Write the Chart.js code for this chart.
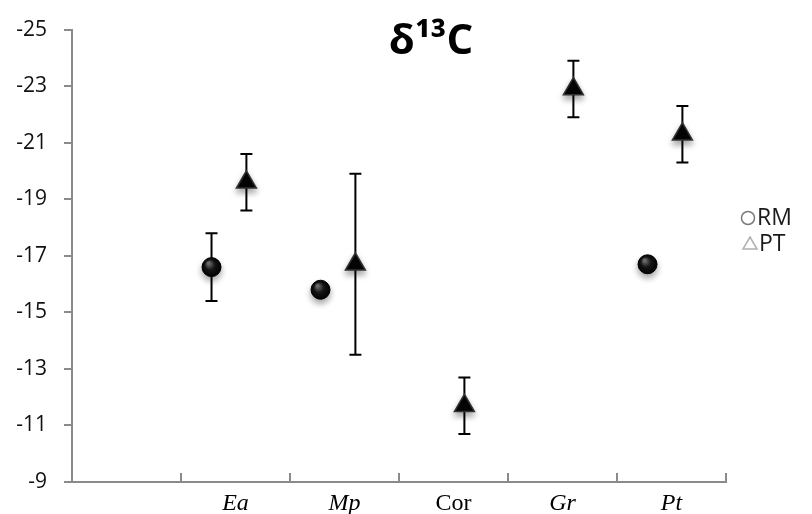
<!DOCTYPE html>
<html>
<head>
<meta charset="utf-8">
<script src="https://cdn.jsdelivr.net/npm/chart.js@4.4.1/dist/chart.umd.min.js"></script>
<style>body{margin:0;background:#fff}</style>
</head>
<body>
<canvas id="isoChart" width="812" height="514"></canvas>
<script>
// d13C by group, RM = circles, PT = triangles (y axis runs -25 at top to -9 at bottom)
const categories = ['', 'Ea', 'Mp', 'Cor', 'Gr', 'Pt'];
const rmValues = [null, -16.6, -15.8, null, null, -16.7];
const rmErrors = [null, 1.2, null, null, null, null];
const ptValues = [null, -19.6, -16.7, -11.7, -22.9, -21.3];
const ptErrors = [null, 1.0, 3.2, 1.0, 1.0, 1.0];
const yTicks = [-25, -23, -21, -19, -17, -15, -13, -11, -9];

const rmShift = -0.22;   // circles sit left of the slot centre
const ptShift = 0.1;     // triangles a little right
const axisGray = '#8a8a8a';

function toPoints(values, errors, shift) {
  const pts = [];
  values.forEach((v, i) => {
    if (v !== null) pts.push({ x: i + 0.5 + shift, y: v, err: errors[i] });
  });
  return pts;
}

function ballFill(c) {
  const chart = c.chart;
  if (c.type !== 'data' || !chart.chartArea || !c.parsed) return '#000';
  const px = chart.scales.x.getPixelForValue(c.parsed.x);
  const py = chart.scales.y.getPixelForValue(c.parsed.y);
  const g = chart.ctx.createRadialGradient(px - 3, py - 4, 1, px, py, 10);
  g.addColorStop(0, '#707070');
  g.addColorStop(0.45, '#161616');
  g.addColorStop(1, '#000');
  return g;
}

const errorBars = {
  id: 'errorBars',
  beforeDatasetsDraw(chart) {
    const { ctx, scales: { x, y } } = chart;
    ctx.save();
    ctx.strokeStyle = '#000';
    ctx.lineWidth = 2;
    chart.data.datasets.forEach(ds => {
      ds.data.forEach(p => {
        if (!p.err) return;
        const px = x.getPixelForValue(p.x);
        const top = y.getPixelForValue(p.y - p.err);
        const bot = y.getPixelForValue(p.y + p.err);
        ctx.beginPath();
        ctx.moveTo(px, top); ctx.lineTo(px, bot);
        ctx.moveTo(px - 6, top); ctx.lineTo(px + 6, top);
        ctx.moveTo(px - 6, bot); ctx.lineTo(px + 6, bot);
        ctx.stroke();
      });
    });
    ctx.restore();
    // soft drop shadow under the markers
    ctx.save();
    ctx.shadowColor = 'rgba(0,0,0,0.35)';
    ctx.shadowBlur = 6;
    ctx.shadowOffsetY = 4;
  },
  afterDatasetsDraw(chart) {
    chart.ctx.restore();
  }
};

const extras = {
  id: 'extras',
  afterDraw(chart) {
    const { ctx, chartArea, scales: { x } } = chart;
    ctx.save();
    // upward tick marks between the groups
    ctx.strokeStyle = axisGray;
    ctx.lineWidth = 2;
    for (let i = 0; i <= categories.length; i++) {
      const px = x.getPixelForValue(i);
      ctx.beginPath();
      ctx.moveTo(px, chartArea.bottom);
      ctx.lineTo(px, chartArea.bottom - 9);
      ctx.stroke();
    }
    // title
    ctx.fillStyle = '#000';
    ctx.font = 'bold 42px "Open Sans"';
    ctx.textAlign = 'center';
    ctx.textBaseline = 'alphabetic';
    ctx.fillText('δ¹³C', 431, 54);
    // legend
    ctx.textAlign = 'left';
    ctx.textBaseline = 'middle';
    ctx.font = '23px "Open Sans"';
    ctx.lineWidth = 1.5;
    ctx.strokeStyle = '#7a7a7a';
    ctx.beginPath();
    ctx.arc(748, 218, 6.5, 0, Math.PI * 2);
    ctx.stroke();
    ctx.fillStyle = '#1a1a1a';
    ctx.fillText('RM', 757, 218);
    ctx.strokeStyle = '#b0b0b0';
    ctx.beginPath();
    ctx.moveTo(750, 237); ctx.lineTo(757, 249); ctx.lineTo(743, 249);
    ctx.closePath();
    ctx.stroke();
    ctx.fillText('PT', 759, 244);
    ctx.restore();
  }
};

new Chart(document.getElementById('isoChart'), {
  type: 'scatter',
  data: {
    datasets: [
      {
        label: 'RM',
        data: toPoints(rmValues, rmErrors, rmShift),
        pointStyle: 'circle',
        pointRadius: 9.5,
        pointBackgroundColor: ballFill,
        pointBorderColor: '#000',
        pointBorderWidth: 1
      },
      {
        label: 'PT',
        data: toPoints(ptValues, ptErrors, ptShift),
        pointStyle: 'triangle',
        pointRadius: 11.5,
        pointBackgroundColor: '#050505',
        pointBorderColor: '#333',
        pointBorderWidth: 1.5
      }
    ]
  },
  options: {
    responsive: false,
    animation: false,
    layout: { padding: { left: 0, top: 24, right: 86, bottom: 0 } },
    plugins: {
      legend: { display: false },
      tooltip: { enabled: false }
    },
    scales: {
      x: {
        type: 'linear',
        min: 0,
        max: categories.length,
        afterBuildTicks: s => { s.ticks = categories.map((c, i) => ({ value: i + 0.5 })); },
        afterFit: s => { s.height = 32; },
        grid: { display: false },
        border: { color: axisGray, width: 2 },
        ticks: {
          autoSkip: false,
          maxRotation: 0,
          padding: -1,
          color: '#000',
          callback: (v, i) => categories[i],
          font: c => ({
            family: '"Liberation Serif", "Times New Roman", serif',
            size: 24,
            style: categories[c.index] === 'Cor' ? 'normal' : 'italic'
          })
        }
      },
      y: {
        reverse: true,
        min: -25,
        max: -9,
        afterBuildTicks: s => { s.ticks = yTicks.map(v => ({ value: v })); },
        afterFit: s => { s.width = 72; },
        grid: { drawOnChartArea: false, tickLength: 8, color: axisGray, lineWidth: 2 },
        border: { color: axisGray, width: 2 },
        ticks: {
          padding: 17,
          color: '#111',
          font: { family: '"Open Sans"', size: 21 }
        }
      }
    }
  },
  plugins: [errorBars, extras]
});
</script>
</body>
</html>
